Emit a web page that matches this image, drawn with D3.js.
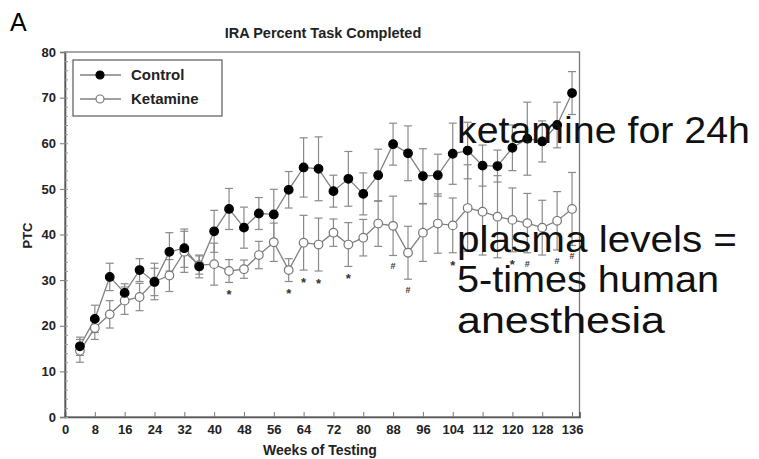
<!DOCTYPE html>
<html>
<head>
<meta charset="utf-8">
<script src="https://cdn.jsdelivr.net/npm/d3@7"></script>
<style>
  body { margin: 0; background: #fff; }
  svg { display: block; font-family: "Liberation Sans", Arial, sans-serif; }
  .tick-label { font-weight: bold; font-size: 13px; fill: #222; }
</style>
</head>
<body>
<div id="chart"></div>
<script>
const weeks = [4, 8, 12, 16, 20, 24, 28, 32, 36, 40, 44, 48, 52, 56, 60, 64, 68,
  72, 76, 80, 84, 88, 92, 96, 100, 104, 108, 112, 116, 120, 124, 128, 132, 136];
const control = [15.5, 21.5, 30.7, 27.2, 32.2, 29.6, 36.2, 37.0, 33.0, 40.7, 45.6, 41.5,
  44.6, 44.4, 49.8, 54.7, 54.4, 49.5, 52.2, 48.9, 53.0, 59.8, 57.8, 52.8, 53.0, 57.7,
  58.4, 55.1, 55.0, 59.0, 61.0, 60.4, 64.0, 71.0];
const controlErr = [2, 3, 3, 2, 2.5, 3, 4.2, 4.2, 2.5, 4.6, 4.5, 4.5, 3.5, 5.5, 4, 6.5,
  7, 3.5, 6, 4.6, 5.7, 4.6, 6, 6, 4.6, 6.7, 6.2, 4.5, 3.5, 5, 8, 4.5, 5, 4.7];
const ketamine = [14.5, 19.5, 22.5, 25.5, 26.3, 29.7, 31.0, 36.2, 33.3, 33.5, 32.0, 32.4,
  35.5, 38.3, 32.2, 38.2, 37.8, 40.4, 37.8, 39.3, 42.4, 41.9, 36.0, 40.4, 42.4, 42.0,
  45.8, 45.0, 43.9, 43.2, 42.5, 41.5, 43.0, 45.6];
const ketamineErr = [2.5, 2.5, 3, 3, 3, 4, 3.5, 4.5, 2, 4.6, 2.5, 2, 3, 4.2, 2.5, 6, 5.8,
  3, 4.8, 4, 5, 6.5, 5.8, 6.3, 6.5, 6, 9.5, 9.5, 9, 7, 6.5, 6, 6.4, 8];
const starWeeks = [44, 60, 64, 68, 76, 104, 120];
const hashWeeks = [88, 92, 124, 132, 136];
const xTicks = d3.range(0, 137, 8);
const yTicks = d3.range(0, 81, 10);
const notes = ["ketamine for 24h", "plasma levels =", "5-times human", "anesthesia"];

const W = 759, H = 459;
const svg = d3.select("#chart").append("svg").attr("width", W).attr("height", H);

const x = d3.scaleLinear().domain([0, 138]).range([65, 579.5]);
const y = d3.scaleLinear().domain([0, 80]).range([417, 52]);

const lineCol = "#808080";
const barCol = "#8a8a8a";

// frame
svg.append("rect")
  .attr("x", x(0)).attr("y", y(80))
  .attr("width", x(138) - x(0)).attr("height", y(0) - y(80))
  .attr("fill", "none").attr("stroke", "#777").attr("stroke-width", 1.3);

// x axis ticks
svg.append("g").attr("transform", `translate(0,${y(0)})`)
  .call(d3.axisBottom(x).tickValues(xTicks).tickSize(-5).tickPadding(5))
  .call(g => g.select(".domain").attr("stroke", "#555").attr("stroke-width", 1.6))
  .call(g => g.selectAll(".tick line").attr("stroke", "#777"))
  .call(g => g.selectAll(".tick text").attr("class", "tick-label").attr("dy", "0.9em"));

// y axis ticks (major outward, minor inward)
svg.append("g").attr("transform", `translate(${x(0)},0)`)
  .call(d3.axisLeft(y).tickValues(yTicks).tickSize(5).tickPadding(4))
  .call(g => g.select(".domain").attr("stroke", "#555").attr("stroke-width", 1.6))
  .call(g => g.selectAll(".tick line").attr("stroke", "#777"))
  .call(g => g.selectAll(".tick text").attr("class", "tick-label"));

svg.append("g").attr("transform", `translate(${x(0)},0)`)
  .call(d3.axisRight(y).tickValues(d3.range(0, 81, 2)).tickSize(3).tickFormat(""))
  .call(g => g.select(".domain").remove())
  .call(g => g.selectAll(".tick line").attr("stroke", "#999"));

// titles
svg.append("text").attr("x", 10).attr("y", 31).attr("font-size", 25).text("A");
svg.append("text").attr("x", 323).attr("y", 38).attr("text-anchor", "middle")
  .attr("font-weight", "bold").attr("font-size", 14.5).attr("fill", "#222")
  .text("IRA Percent Task Completed");
svg.append("text").attr("x", 320).attr("y", 455).attr("text-anchor", "middle")
  .attr("font-weight", "bold").attr("font-size", 14).attr("fill", "#222")
  .text("Weeks of Testing");
svg.append("text").attr("transform", `translate(27,${y(40) + 1}) rotate(-90)`)
  .attr("text-anchor", "middle").attr("dy", "0.35em")
  .attr("font-weight", "bold").attr("font-size", 13).attr("fill", "#222")
  .text("PTC");

const series = [
  { name: "Control", vals: control, err: controlErr, fill: "#000", stroke: "#000" },
  { name: "Ketamine", vals: ketamine, err: ketamineErr, fill: "#fff", stroke: "#777" }
];

// error bars
series.forEach(s => {
  const g = svg.append("g").attr("stroke", barCol).attr("stroke-width", 1.2);
  weeks.forEach((w, i) => {
    const lo = y(s.vals[i] - s.err[i]), hi = y(s.vals[i] + s.err[i]);
    g.append("line").attr("x1", x(w)).attr("x2", x(w)).attr("y1", lo).attr("y2", hi);
    g.append("line").attr("x1", x(w) - 4).attr("x2", x(w) + 4).attr("y1", lo).attr("y2", lo);
    g.append("line").attr("x1", x(w) - 4).attr("x2", x(w) + 4).attr("y1", hi).attr("y2", hi);
  });
});

// lines and markers
const line = d3.line().x((d, i) => x(weeks[i])).y(d => y(d));
series.slice().reverse().forEach(s => {
  svg.append("path").datum(s.vals).attr("d", line)
    .attr("fill", "none").attr("stroke", lineCol).attr("stroke-width", 1.3);
});
series.slice().reverse().forEach(s => {
  svg.append("g").selectAll("circle").data(s.vals).join("circle")
    .attr("cx", (d, i) => x(weeks[i])).attr("cy", d => y(d)).attr("r", 4.3)
    .attr("fill", s.fill).attr("stroke", s.stroke).attr("stroke-width", 1.2);
});

// significance marks under ketamine bars
const below = w => {
  const i = weeks.indexOf(w);
  return y(ketamine[i] - ketamineErr[i]) + 11;
};
svg.append("g").selectAll("text").data(starWeeks).join("text")
  .attr("x", d => x(d)).attr("y", d => below(d) + 6).attr("text-anchor", "middle")
  .attr("font-size", 13).attr("font-weight", "bold").attr("fill", "#333").text("*");
svg.append("g").selectAll("text").data(hashWeeks).join("text")
  .attr("x", d => x(d)).attr("y", d => below(d) + 3).attr("text-anchor", "middle")
  .attr("font-size", 9).attr("font-weight", "bold").attr("fill", "#333").text("#");

// legend
const lg = svg.append("g");
lg.append("rect").attr("x", 73).attr("y", 60).attr("width", 149).attr("height", 56)
  .attr("fill", "#fff").attr("stroke", "#666").attr("stroke-width", 1.3);
series.forEach((s, i) => {
  const ly = 75 + i * 24;
  lg.append("line").attr("x1", 80).attr("x2", 121).attr("y1", ly).attr("y2", ly)
    .attr("stroke", lineCol).attr("stroke-width", 1.3);
  lg.append("circle").attr("cx", 100).attr("cy", ly).attr("r", 4)
    .attr("fill", s.fill).attr("stroke", s.stroke).attr("stroke-width", 1.2);
  lg.append("text").attr("x", 131).attr("y", ly).attr("dy", "0.36em")
    .attr("font-weight", "bold").attr("font-size", 15).attr("fill", "#222").text(s.name);
});

// overlaid annotation, stretched a little wider than Liberation Sans draws it
const noteY = [143, 252, 292, 333];
const noteW = [293, 280, 262, 208];
svg.append("g").selectAll("text").data(notes).join("text")
  .attr("x", 457).attr("y", (d, i) => noteY[i])
  .attr("font-size", 36).attr("fill", "#111")
  .attr("textLength", (d, i) => noteW[i]).attr("lengthAdjust", "spacingAndGlyphs")
  .text(d => d);
</script>
</body>
</html>
